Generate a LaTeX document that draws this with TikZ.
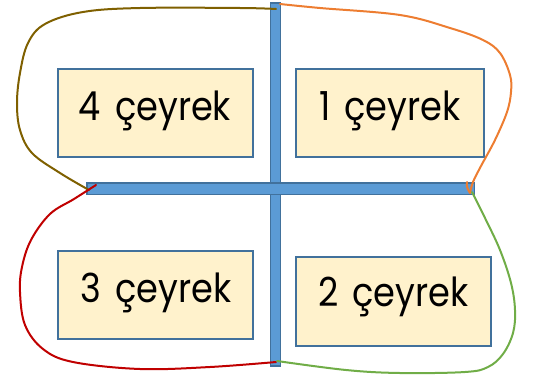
\documentclass[tikz,border=0pt]{standalone}
\usepackage{fontspec}
\usepackage{graphicx}
\setmainfont{Poppins}
\definecolor{boxfill}{HTML}{FFF2CC}
\definecolor{boxline}{HTML}{41719C}
\definecolor{barfill}{HTML}{5B9BD5}
\definecolor{cOlive}{HTML}{7F6000}
\definecolor{cOrange}{HTML}{ED7D31}
\definecolor{cRed}{HTML}{C00000}
\definecolor{cGreen}{HTML}{70AD47}
\tikzset{
  qbox/.style={draw=boxline, line width=2pt, fill=boxfill, inner sep=0pt, minimum height=88pt},
  bar/.style={draw=boxline, line width=1.5pt, fill=barfill, inner sep=0pt},
  lbl/.style={anchor=base, inner sep=0pt, font=\fontsize{40}{40}\selectfont},
  loop/.style={line width=2pt, line cap=round, line join=round}
}
\newcommand{\qtxt}[2]{\scalebox{0.88}[1]{#1}\hspace{14pt}\scalebox{0.88}[1]{#2}}
\begin{document}
\begin{tikzpicture}[x=1pt,y=-1pt]
\useasboundingbox (0,0) rectangle (543,383);
% boxes
\node[qbox, minimum width=195pt] (b4) at (155,113) {};
\node[qbox, minimum width=188pt] (b1) at (390,113) {};
\node[qbox, minimum width=195pt] (b3) at (155,295) {};
\node[qbox, minimum width=195pt, minimum height=89pt] (b2) at (393.5,301.5) {};
% labels
\node[lbl] (t4) at (155,120.7) {\qtxt{4}{çeyrek}};
\node[lbl] (t1) at (390,120.7) {\qtxt{1}{çeyrek}};
\node[lbl] (t3) at (156,302.7) {\qtxt{3}{çeyrek}};
\node[lbl] (t2) at (393.5,306.7) {\qtxt{2}{çeyrek}};
% bars
\node[bar, minimum width=10.3pt, minimum height=363pt] (vbar) at (275.4,184.4) {};
\node[bar, minimum width=387.5pt, minimum height=11.5pt] (hbar) at (280.5,188.5) {};
% curve ends
\coordinate (top1) at (276,9);
\coordinate (top2) at (280,4);
\coordinate (left1) at (89,190);
\coordinate (left2) at (96,185);
\coordinate (right1) at (470,193);
\coordinate (right2) at (472,192);
\coordinate (bot1) at (276,362);
\coordinate (bot2) at (277,361);
% loops
\draw[loop, cOlive] plot[smooth, tension=0.6] coordinates {(top1) (240,8) (140,8) (83,12) (45,24) (28,43) (20,73) (17,103) (20,130) (32,153) (60,173) (left1)};
\draw[loop, cRed] plot[smooth, tension=0.6] coordinates {(left2) (74,199) (50,214) (31,240) (22,267) (20,292) (25,325) (43,349) (73,362) (140,369) (210,367) (bot1)};
\draw[loop, cOrange] plot[smooth, tension=0.6] coordinates {(top2) (320,8) (400,15) (450,28) (483,40) (500,53) (510,75) (511,92) (507,112) (495,140) (481,166) (473,182) (right1)};
\draw[loop, cOrange] (right1) .. controls (468,190) and (466,186) .. (467,182);
\draw[loop, cGreen] plot[smooth, tension=0.6] coordinates {(right2) (485,218) (500,250) (511,283) (515,310) (513,333) (503,354) (488,367) (465,372) (400,373) (346,370) (bot2)};
\end{tikzpicture}
\end{document}
